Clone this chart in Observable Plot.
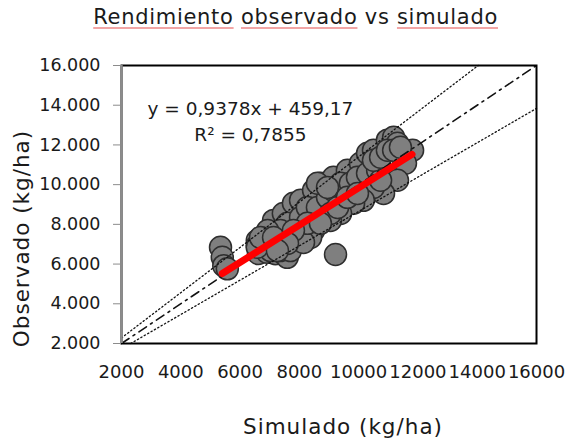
<!DOCTYPE html>
<html>
<head>
<meta charset="utf-8">
<script src="https://cdn.jsdelivr.net/npm/d3@7"></script>
<script src="https://cdn.jsdelivr.net/npm/@observablehq/plot@0.6"></script>
<style>
  html, body { margin: 0; padding: 0; background: #fff; }
  #wrap { position: relative; width: 566px; height: 445px; font-family: "DejaVu Sans", sans-serif; }
  #title { position: absolute; top: 5px; right: 68px; text-align: right;
           font-size: 21px; color: #1a1a1a; white-space: nowrap; letter-spacing: 0.7px; }
  #title .sp { text-decoration: underline; text-decoration-color: #f2a5a5; text-underline-offset: 3px; }
  #chart { position: absolute; top: 0; left: 0; }
</style>
</head>
<body>
<div id="wrap">
  <div id="chart"></div>
  <div id="title"><span class="sp">Rendimiento</span> <span class="sp">observado</span> vs <span class="sp">simulado</span></div>
</div>
<script>
const simulado = [
  5340, 5400, 5450, 5570, 9220,
  6580, 6620, 6910, 7190, 7460, 7590, 7030, 7360, 7700, 6790, 6580, 6580,
  7130, 7460, 7800, 8040, 8480, 8710, 9150, 9620, 10060, 10300, 10500, 10970, 11180, 11310,
  11820, 11480, 11580, 11310, 10840, 10500, 10160, 9830, 9390, 9050, 8480, 8380, 8140,
  7600, 7360, 6930, 6690, 7130, 8040, 8270, 8610, 8950, 9150, 9390, 9720, 9960, 10300,
  10640, 10740, 10500, 10740, 10970, 11180, 11410, 8610, 8950, 9050, 8270, 7800, 7600,
  7260, 8710, 9290, 9620, 9960
];
const observado = [
  6850, 6340, 5920, 5760, 6480,
  7190, 6530, 6600, 6520, 6530, 6340, 6680, 6680, 6680, 7100, 6930, 6850,
  8200, 8550, 9060, 9210, 9710, 10070, 10370, 10720, 11080, 11580, 11730, 12240, 12390, 12080,
  11730, 11380, 11080, 10220, 9560, 9860, 9210, 9060, 8550, 8200, 7690, 7340, 7090,
  8050, 7690, 7690, 7340, 7340, 8350, 8850, 8850, 9360, 9710, 10070, 10070, 10370, 10570,
  10720, 10220, 11230, 11380, 11730, 11730, 11880, 10070, 9860, 8550, 8050, 7690, 7040,
  6680, 8050, 8850, 9360, 9560
];
// Trend line reported on the chart
const slope = 0.9378;
const intercept = 459.17;
const trendRange = [5400, 11800];
const equationText = "y = 0,9378x + 459,17";
const r2Text = "R² = 0,7855";
// Reference lines: 1:1 and the two dotted band lines (factor of x)
const bandFactors = [1.14, 0.865];
const xTicks = [2000, 4000, 6000, 8000, 10000, 12000, 14000, 16000];
const yTicks = [2000, 4000, 6000, 8000, 10000, 12000, 14000, 16000];
const axisMin = 2000, axisMax = 16000;

const points = simulado.map((x, i) => ({x, y: observado[i]}));
const trend = trendRange.map(x => ({x, y: slope * x + intercept}));
const oneToOne = [{x: axisMin, y: axisMin}, {x: axisMax, y: axisMax}];
const bands = bandFactors.map(f => {
  const x0 = Math.max(axisMin, axisMin / f), x1 = Math.min(axisMax, axisMax / f);
  return [{x: x0, y: x0 * f}, {x: x1, y: x1 * f}];
});

const loc = d3.formatLocale({decimal: ",", thousands: ".", grouping: [3], currency: ["", ""]});
const yFmt = loc.format(",.0f");

const chart = Plot.plot({
  width: 566,
  height: 445,
  marginTop: 65,
  marginBottom: 102,
  marginLeft: 121,
  marginRight: 30,
  style: {fontFamily: "DejaVu Sans, sans-serif", fontSize: "17px", color: "#1a1a1a", background: "transparent"},
  x: {domain: [axisMin, axisMax], axis: null},
  y: {domain: [axisMin, axisMax], axis: null},
  marks: [
    Plot.dot(points, {x: "x", y: "y", r: 11, fill: "#7f7f7f", stroke: "#2e2e2e", strokeWidth: 1.5}),
    ...bands.map(b => Plot.line(b, {x: "x", y: "y", stroke: "#111", strokeWidth: 1.3, strokeDasharray: "1.3 2.6"})),
    Plot.line(oneToOne, {x: "x", y: "y", stroke: "#111", strokeWidth: 1.6, strokeDasharray: "9 5 2 5"}),
    Plot.line(trend, {x: "x", y: "y", stroke: "#ff0000", strokeWidth: 7, strokeLinecap: "round"}),
    Plot.frame({stroke: "#000", strokeWidth: 2}),
    Plot.ruleX([axisMin], {stroke: "#8c8c8c", strokeWidth: 2.5}),
    Plot.axisY({ticks: yTicks, tickFormat: yFmt, tickSize: 8, tickPadding: 13, stroke: "#8c8c8c", fill: "#1a1a1a", fontSize: 17.5, label: null}),
    Plot.axisX({ticks: xTicks, tickFormat: d => String(d), tickSize: 0, tickPadding: 22, fill: "#1a1a1a", fontSize: 18, label: null}),
    Plot.text([equationText + "\n" + r2Text], {x: 6350, y: 13270, fontSize: 18.5, lineHeight: 1.4, fill: "#1a1a1a", textAnchor: "middle"}),
    Plot.text(["Simulado (kg/ha)"], {frameAnchor: "bottom", dx: 14, dy: 90, fontSize: 21.5, fill: "#1a1a1a"}),
    Plot.text(["Observado (kg/ha)"], {frameAnchor: "left", textAnchor: "middle", dx: -99, dy: 34, rotate: -90, fontSize: 21.5, fill: "#1a1a1a"})
  ]
});
d3.select(chart).selectAll("text").filter(function() { return /kg\/ha/.test(this.textContent); }).style("letter-spacing", "1px");
document.getElementById("chart").appendChild(chart);
</script>
</body>
</html>
